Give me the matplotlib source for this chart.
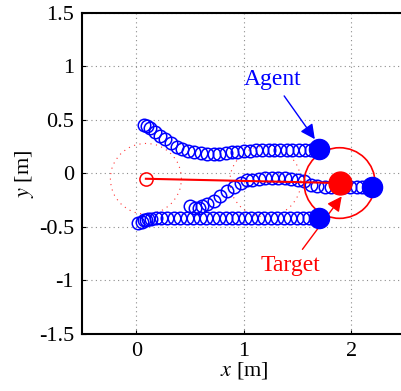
import numpy as np
import matplotlib.pyplot as plt
from matplotlib.patches import Circle

plt.rcParams['font.family'] = ['Liberation Serif', 'DejaVu Serif']
plt.rcParams['mathtext.fontset'] = 'stix'

# agent trajectories
top_x = [0.07, 0.10, 0.13, 0.17, 0.22, 0.27, 0.32, 0.38, 0.43, 0.48, 0.54, 0.60, 0.66,
         0.72, 0.77, 0.83, 0.89, 0.94, 1.00, 1.06, 1.11, 1.17, 1.23, 1.28, 1.34, 1.40,
         1.45, 1.51, 1.57, 1.62]
top_y = [0.45, 0.44, 0.42, 0.39, 0.35, 0.32, 0.28, 0.25, 0.23, 0.21, 0.20, 0.19, 0.185,
         0.184, 0.185, 0.19, 0.196, 0.20, 0.205, 0.21, 0.215, 0.218, 0.22, 0.22, 0.22,
         0.22, 0.22, 0.22, 0.22, 0.22]

bot_x = [0.02, 0.05, 0.07, 0.09, 0.11, 0.14, 0.18, 0.23, 0.29, 0.35, 0.41, 0.47, 0.53,
         0.59, 0.65, 0.71, 0.77, 0.83, 0.89, 0.95, 1.01, 1.07, 1.13, 1.19, 1.25, 1.31,
         1.37, 1.43, 1.49, 1.55, 1.61]
bot_y = [-0.46, -0.45, -0.44, -0.44, -0.43, -0.43, -0.42, -0.42, -0.42, -0.42, -0.42,
         -0.42, -0.42, -0.42, -0.42, -0.42, -0.42, -0.42, -0.42, -0.42, -0.42, -0.42,
         -0.42, -0.42, -0.42, -0.42, -0.42, -0.42, -0.42, -0.42, -0.42]

mid_x = [0.50, 0.55, 0.58, 0.61, 0.66, 0.72, 0.78, 0.845, 0.91, 0.97, 1.03, 1.08, 1.14,
         1.20, 1.26, 1.32, 1.38, 1.44, 1.50, 1.56, 1.62, 1.68, 1.75, 1.81, 1.87, 1.93,
         1.99, 2.05, 2.10]
mid_y = [-0.305, -0.32, -0.32, -0.305, -0.29, -0.26, -0.21, -0.165, -0.125, -0.087,
         -0.062, -0.057, -0.05, -0.045, -0.044, -0.045, -0.047, -0.05, -0.06, -0.075,
         -0.105, -0.12, -0.128, -0.13, -0.13, -0.13, -0.13, -0.13, -0.128]

agent_end_x = [1.70, 1.70, 2.19]
agent_end_y = [0.23, -0.42, -0.13]

# target path
target_x = [0.09, 1.20, 1.89]
target_y = [-0.05, -0.075, -0.09]
radius = 0.33

fig = plt.figure(figsize=(4.02, 3.91), dpi=100)
ax = fig.add_axes([0.205, 0.146, 0.803, 0.821])

ax.grid(True, linestyle=(0, (1, 3)), color='0.55', linewidth=0.8)
ax.set_axisbelow(True)

for xs, ys in [(top_x, top_y), (bot_x, bot_y), (mid_x, mid_y)]:
    ax.plot(xs, ys, 'o', mfc='none', mec='blue', ms=9, mew=1.1, zorder=3)

# dotted circles at earlier target positions
for cx, cy in zip(target_x[:2], target_y[:2]):
    ax.add_patch(Circle((cx, cy), radius, fill=False, ec='red', ls=(0, (1, 4)),
                        lw=0.8, alpha=0.8, zorder=2))
ax.add_patch(Circle((target_x[-1], target_y[-1]), radius, fill=False, ec='red',
                    lw=1.2, zorder=4))

ax.plot([target_x[0], target_x[-1]], [target_y[0], target_y[-1]], '-', color='red',
        lw=1.5, zorder=4)
ax.plot(target_x[0], target_y[0], 'o', mfc='none', mec='red', ms=9.5, mew=1.1, zorder=4)

ax.plot(agent_end_x, agent_end_y, 'o', color='blue', ms=14.5, zorder=5)
ax.plot(target_x[-1], target_y[-1], 'o', color='red', ms=16.5, zorder=6)

ax.annotate('Agent', xy=(1.66, 0.32), xytext=(1.265, 0.88), color='blue', fontsize=17,
            ha='center', va='center',
            arrowprops=dict(arrowstyle='-|>', color='blue', lw=1.0, mutation_scale=22,
                            shrinkA=3, shrinkB=0))
ax.annotate('Target', xy=(1.91, -0.215), xytext=(1.43, -0.865), color='red', fontsize=17,
            ha='center', va='center',
            arrowprops=dict(arrowstyle='-|>', color='red', lw=1.0, mutation_scale=22,
                            shrinkA=3, shrinkB=0))

ax.set_xlim(-0.5, 2.5)
ax.set_ylim(-1.5, 1.5)
ax.set_xticks([0, 1, 2])
ax.set_yticks([-1.5, -1, -0.5, 0, 0.5, 1, 1.5])
ax.set_yticklabels(['-1.5', '-1', '-0.5', '0', '0.5', '1', '1.5'])
ax.tick_params(direction='in', length=3, labelsize=16, pad=6)
for s in ax.spines.values():
    s.set_linewidth(1.5)

ax.set_xlabel(r'$x$ [m]', fontsize=16, labelpad=-1)
ax.set_ylabel(r'$y$ [m]', fontsize=16, labelpad=2)

fig.savefig('out.png', dpi=100)
